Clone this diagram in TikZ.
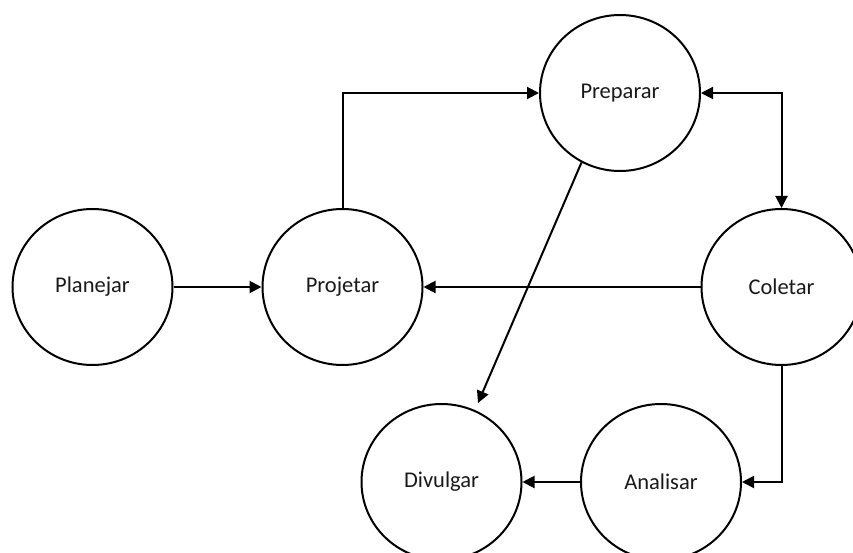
\documentclass[tikz,border=0pt]{standalone}
\usepackage{fontspec}
\setmainfont{Carlito}
\usetikzlibrary{arrows.meta,shapes.geometric}

\tikzset{
  tip/.tip={Triangle[length=12pt,width=12pt]},
  stage/.style={draw=black, line width=2pt, ellipse, minimum width=160pt,
    minimum height=156pt, inner sep=0pt, text=black!90,
    font=\fontsize{22.5}{26}\selectfont},
  flow/.style={line width=2pt, -tip},
  twoway/.style={line width=2pt, tip-tip},
}

\begin{document}
\begin{tikzpicture}[x=1pt, y=-1pt]
  \useasboundingbox (0,0) rectangle (853,553);
  \clip (0,0) rectangle (853,553);

  % process stages
  \node[stage] (plan) at (92.5,287) {Planejar};
  \node[stage] (proj) at (342.5,287) {Projetar};
  \node[stage] (prep) at (620,93) {Preparar};
  \node[stage] (col)  at (781.5,287) {Coletar};
  \node[stage] (ana)  at (661,482) {Analisar};
  \node[stage] (div)  at (441.5,482) {Divulgar};

  % free end of the Preparar -> Divulgar arrow
  \coordinate (dtip) at (478,403);

  % connectors
  \draw[flow] (plan.east) -- (proj.west);
  \draw[flow] (proj.north) |- (prep.west);
  \draw[twoway] (prep.east) -| (col.north);
  \draw[flow] (col.west) -- (proj.east);
  \draw[flow] (prep.-119) -- (dtip);
  \draw[flow] (col.south) |- (ana.east);
  \draw[flow] (ana.west) -- (div.east);
\end{tikzpicture}
\end{document}
